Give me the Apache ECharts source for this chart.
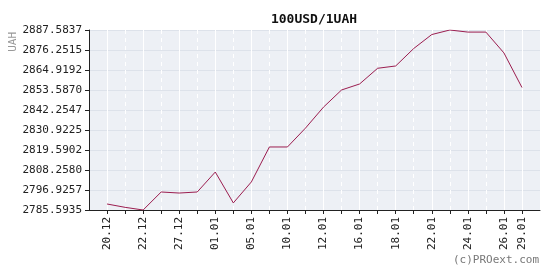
<!DOCTYPE html>
<html><head><meta charset="utf-8">
<script src="https://cdn.jsdelivr.net/npm/echarts@6/dist/echarts.min.js"></script>
<style>html,body{margin:0;padding:0;background:#fff}#c{width:542px;height:279px}</style>
</head><body><div id="c"></div>
<script>
var dates = ['20.12','21.12','22.12','23.12','27.12','28.12','01.01','03.01','05.01','06.01','10.01','11.01',
             '12.01','13.01','16.01','17.01','18.01','19.01','22.01','23.01','24.01','25.01','26.01','29.01'];
var values = [2789.0,2787.1,2785.5935,2795.8,2795.2,2795.8,2807.1,2789.6,2801.5,2821.3,2821.3,2832.0,
              2843.9,2853.6,2857.0,2865.9,2867.2,2877.1,2885.0,2887.5837,2886.4,2886.4,2874.6,2855.0];
var labeledDates = ['20.12','22.12','27.12','01.01','05.01','10.01','12.01','16.01','18.01','22.01','24.01','26.01','29.01'];
var yTickLabels = ['2785.5935','2796.9257','2808.2580','2819.5902','2830.9225','2842.2547','2853.5870','2864.9192','2876.2515','2887.5837'];
var titleText = '100USD/1UAH';
var unitText = 'UAH';
var creditText = '(c)PROext.com';

var cats = [''].concat(dates, ['']);
var yVals = yTickLabels.map(Number);
var mono = 'DejaVu Sans Mono';
function isLabeled(i){ return labeledDates.indexOf(cats[i]) >= 0; }
function isMinor(i){ return i > 0 && i < cats.length - 1 && !isLabeled(i); }

var chart = echarts.init(document.getElementById('c'), null, {renderer:'canvas'});
chart.setOption({
  animation: false,
  title: {text: titleText, left: 309, top: 8, textAlign: 'center',
    textStyle: {fontFamily: mono, fontSize: 13, fontWeight: 'bold', color: '#111'}},
  grid: {left: 89, top: 30, right: 2, bottom: 69, show: true, backgroundColor: '#edf0f5', borderWidth: 0, containLabel: false},
  xAxis: [{
    type: 'category', data: cats, boundaryGap: false,
    axisLine: {lineStyle: {color: '#222', width: 1}},
    axisTick: {interval: function(i){ return i > 0 && i < cats.length - 1; }, length: 4, lineStyle: {color: '#222'}},
    axisLabel: {interval: function(i){ return isLabeled(i); }, rotate: 90, margin: 7,
      fontFamily: mono, fontSize: 11, color: '#222'},
    splitLine: {show: true, interval: function(i){ return isLabeled(i); }, lineStyle: {color: '#ffffff', width: 1}}
  },{
    type: 'category', data: cats, boundaryGap: false, position: 'bottom',
    axisLine: {show: false}, axisTick: {show: false}, axisLabel: {show: false},
    splitLine: {show: true, interval: function(i){ return isMinor(i); }, lineStyle: {color: '#ffffff', width: 1, type: [4,4]}}
  }],
  yAxis: {
    type: 'value', min: yVals[0], max: yVals[yVals.length-1],
    axisLine: {show: true, lineStyle: {color: '#222', width: 1}},
    axisTick: {show: true, length: 4, customValues: yVals, lineStyle: {color: '#222'}},
    axisLabel: {customValues: yVals, margin: 7, fontFamily: mono, fontSize: 11, color: '#222',
      formatter: function(v){ return v.toFixed(4); }},
    splitLine: {show: true, lineStyle: {color: '#dde2ea', width: 1}}
  },
  graphic: [
    {type: 'text', x: 13, y: 32, rotation: Math.PI/2,
      style: {text: unitText, align: 'right', verticalAlign: 'middle', fontFamily: mono, fontSize: 11, fill: '#999'}},
    {type: 'text', right: 3, top: 255,
      style: {text: creditText, fontFamily: mono, fontSize: 11, fill: '#777'}}
  ],
  series: [{
    type: 'line', xAxisIndex: 0,
    data: dates.map(function(d, i){ return [d, values[i]]; }),
    symbol: 'none', lineStyle: {color: '#9b1d4f', width: 1}, itemStyle: {color: '#9b1d4f'}
  }]
});
</script></body></html>
